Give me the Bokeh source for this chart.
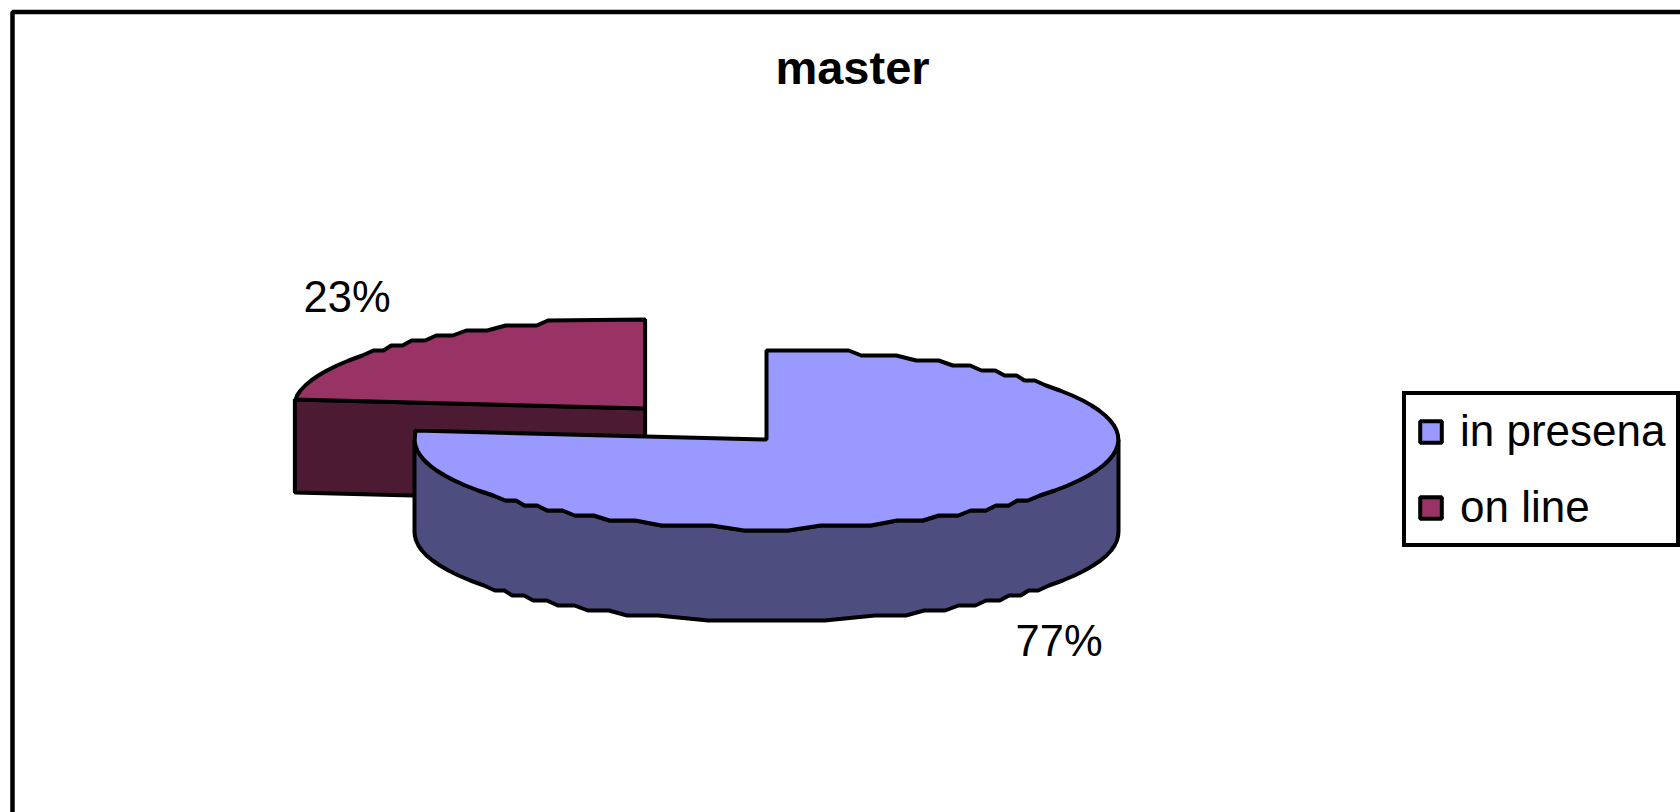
import math
from bokeh.plotting import figure
from bokeh.models import Range1d, Legend, LegendItem
from bokeh.core.properties import value
from bokeh.embed import file_html
from bokeh.resources import INLINE

# --- data ---
title_text = "master"
categories = ["in presena", "on line"]
shares = [76.6, 23.4]
top_colors = ["#9999FF", "#993366"]
side_colors = ["#4D4D80", "#4D1A33"]

# --- layout (page pixels of the reference) ---
W, H = 1680, 812
RX, RY, DEPTH = 352, 89, 93
STEP = 5.0
CENTERS = [(766, 439), (644.6, 408)]
LABEL_POS = [(1015, 640), (303, 296.5)]
FONT = "Liberation Sans"
BLACK = "#000000"
LW = 4.0

p = figure(width=W, height=H, output_backend="svg", toolbar_location=None,
           x_range=Range1d(0, W), y_range=Range1d(H, 0),
           x_axis_type=None, y_axis_type=None, min_border=0,
           outline_line_color=None, background_fill_color="#FFFFFF")
p.grid.visible = False


def arc(cx, cy, a0, a1):
    """Rim of the tilted disc from a0 to a1 degrees, as flat runs joined by slants."""
    n = max(2, int(abs(a1 - a0) * 6))
    samples = []
    for i in range(n + 1):
        t = math.radians(a0 + (a1 - a0) * i / n)
        samples.append((cx + RX * math.cos(t), cy - RY * math.sin(t)))
    runs = []
    for x, y in samples:
        level = round(y / STEP) * STEP
        if runs and runs[-1][0] == level:
            runs[-1][2] = x
        else:
            runs.append([level, x, x])
    pts = [samples[0]]
    for k, (level, xa, xb) in enumerate(runs):
        if k == 0:
            pts.append((xb, level))
        elif k == len(runs) - 1:
            pts.append((xa, level))
        elif abs(xb - xa) > 16:
            pts.append((xa + 0.2 * (xb - xa), level))
            pts.append((xa + 0.8 * (xb - xa), level))
        else:
            pts.append((0.5 * (xa + xb), level))
    pts.append(samples[-1])
    return pts


# slice angles from the shares, clockwise from 12 o'clock
total = sum(shares)
start = 90.0
angles = []
for s in shares:
    end = start - 360.0 * s / total
    angles.append((start, end))
    start = end

# on line: cut face, then top
cx, cy = CENTERS[1]
a0, a1 = angles[1]
a0 += 360
tip = (cx + RX * math.cos(math.radians(a0)), cy - RY * math.sin(math.radians(a0)))
p.patch([tip[0], cx, cx, tip[0]], [tip[1], cy, cy + DEPTH, tip[1] + DEPTH],
        fill_color=side_colors[1], line_color=BLACK, line_width=LW)
pts = arc(cx, cy, a0, 90)
top2 = p.patch([cx] + [q[0] for q in pts], [cy] + [q[1] for q in pts],
               fill_color=top_colors[1], line_color=BLACK, line_width=LW)

# in presena: rim side, then top
cx, cy = CENTERS[0]
a0, a1 = angles[0]
rim = arc(cx, cy, 180, 360) + arc(cx, cy + DEPTH, 360, 180)
p.patch([q[0] for q in rim], [q[1] for q in rim],
        fill_color=side_colors[0], line_color=BLACK, line_width=LW)
pts = arc(cx, cy, a0, a1)
top1 = p.patch([cx] + [q[0] for q in pts], [cy] + [q[1] for q in pts],
               fill_color=top_colors[0], line_color=BLACK, line_width=LW)

# chart frame (open towards the page edges, as in the reference)
p.line([12, 12, W], [H, 11.5, 11.5], line_color=BLACK, line_width=4.5)

# percentage labels and title
labels = [f"{round(s)}%" for s in shares]
p.text([q[0] for q in LABEL_POS], [q[1] for q in LABEL_POS], text=labels,
       text_font=value(FONT), text_font_size="43.5px", text_color=BLACK,
       text_baseline="alphabetic", text_align="left")
p.text([852], [67], text=[title_text], text_font=value(FONT), text_font_size="47px",
       text_font_style="bold", text_color=BLACK, text_baseline="alphabetic", text_align="center")

legend = Legend(items=[LegendItem(label=categories[0], renderers=[top1]),
                       LegendItem(label=categories[1], renderers=[top2])],
                location=(1402, 265),
                label_text_font=FONT, label_text_font_size="44px", label_text_color=BLACK,
                glyph_width=27, glyph_height=27, label_standoff=16,
                spacing=26, padding=11, margin=0,
                border_line_color=BLACK, border_line_width=4, border_line_alpha=1,
                background_fill_alpha=1, background_fill_color="#FFFFFF")
p.add_layout(legend, "center")

open("out.html", "w").write(file_html(p, INLINE))
